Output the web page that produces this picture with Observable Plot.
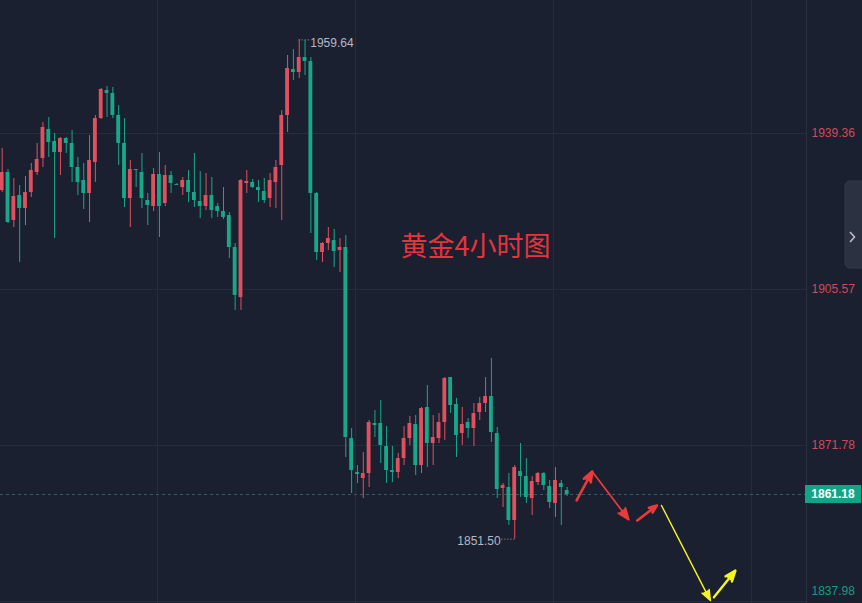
<!DOCTYPE html>
<html><head><meta charset="utf-8">
<script src="https://cdn.jsdelivr.net/npm/d3@7"></script>
<script src="https://cdn.jsdelivr.net/npm/@observablehq/plot@0.6"></script>
<style>html,body{margin:0;padding:0;background:#1b2030;overflow:hidden}</style>
</head><body><div id="chart"></div>
<script>
// 4-hour gold candles (oldest -> newest)
const opens = [1927.01,1930.91,1920.52,1925.93,1923.12,1926.58,1930.91,1933.95,1940.23,1937.63,
1935.25,1938.28,1937.20,1932.00,1929.18,1926.37,1933.08,1942.61,1948.67,1948.02,
1943.26,1937.20,1925.28,1931.56,1930.91,1924.85,1923.55,1930.48,1924.20,1930.26,
1928.32,1927.66,1929.18,1926.58,1924.63,1923.55,1925.93,1923.55,1922.47,1921.60,
1914.67,1903.84,1928.53,1928.75,1927.66,1926.80,1925.28,1928.75,1932.43,1943.26,
1953.22,1952.57,1955.82,1954.95,1926.37,1913.59,1915.54,1916.18,1914.02,1914.67,
1873.30,1865.94,1864.64,1865.72,1876.55,1876.55,1871.57,1866.37,1865.94,1868.97,
1873.30,1876.34,1867.45,1880.02,1872.22,1873.30,1876.77,1886.51,1880.67,1874.39,
1876.77,1875.47,1878.93,1880.89,1882.40,1874.39,1862.48,1862.69,1855.54,1866.16,
1865.07,1860.31,1863.77,1865.72,1862.91,1859.23,1863.56,1862.04];
const highs = [1936.11,1931.56,1929.61,1928.10,1930.05,1932.86,1937.20,1941.74,1942.83,1939.36,
1938.49,1938.49,1940.01,1934.16,1932.86,1938.93,1943.26,1949.11,1949.54,1949.32,
1945.42,1942.61,1933.51,1931.56,1935.03,1926.37,1931.78,1935.25,1932.43,1931.13,
1928.50,1929.83,1931.35,1935.03,1931.13,1930.70,1929.83,1924.20,1927.66,1922.25,
1915.54,1929.40,1931.35,1929.40,1929.18,1929.61,1930.70,1933.51,1944.34,1956.25,
1957.55,1959.64,1959.50,1955.82,1926.58,1915.75,1919.00,1918.57,1916.62,1917.27,
1875.47,1867.45,1870.27,1877.20,1879.37,1881.53,1875.90,1871.57,1870.06,1875.90,
1878.07,1878.28,1880.02,1884.78,1878.28,1878.72,1886.51,1886.51,1881.97,1880.02,
1877.64,1880.89,1882.18,1886.51,1890.63,1875.69,1863.56,1865.72,1867.45,1872.22,
1868.97,1865.07,1865.94,1865.94,1864.21,1867.02,1864.21,1862.69];
const lows = [1926.58,1919.87,1919.00,1911.42,1919.43,1925.50,1930.26,1932.00,1934.16,1916.62,
1930.26,1935.03,1928.75,1925.93,1922.90,1920.09,1928.75,1942.39,1942.83,1942.61,
1932.43,1923.33,1919.00,1927.66,1923.12,1919.43,1922.47,1916.84,1923.55,1926.37,
1928.10,1925.93,1924.42,1923.33,1920.95,1922.68,1920.95,1921.17,1920.74,1912.29,
1901.03,1901.03,1926.37,1927.45,1924.42,1924.20,1923.33,1923.12,1920.52,1939.58,
1950.84,1951.27,1951.92,1917.70,1911.85,1911.42,1914.02,1910.34,1909.26,1869.19,
1861.39,1863.56,1860.31,1862.69,1873.52,1867.89,1863.56,1863.77,1864.64,1867.45,
1871.79,1865.29,1865.72,1867.02,1867.45,1872.22,1872.87,1878.72,1869.19,1871.79,
1873.30,1871.57,1877.20,1878.93,1872.43,1860.31,1858.36,1854.46,1851.50,1860.53,
1859.23,1856.63,1863.12,1862.04,1858.14,1856.19,1854.46,1860.74];
const closes = [1930.91,1920.09,1925.72,1923.12,1926.58,1931.35,1933.73,1940.66,1937.41,1935.25,
1938.28,1937.20,1932.00,1928.75,1926.37,1933.51,1942.61,1948.89,1948.02,1943.26,
1937.20,1925.28,1931.56,1931.35,1925.28,1923.77,1930.48,1923.55,1930.26,1928.53,
1928.10,1929.18,1926.58,1924.85,1923.55,1925.93,1922.68,1922.47,1921.17,1914.67,
1904.28,1929.18,1928.96,1927.66,1927.01,1924.85,1929.18,1932.00,1943.26,1953.44,
1952.57,1955.82,1954.95,1926.37,1913.59,1915.54,1916.62,1913.80,1914.67,1873.52,
1866.37,1865.51,1865.72,1876.77,1876.12,1871.79,1866.37,1865.94,1868.97,1873.30,
1876.55,1867.45,1879.80,1872.22,1873.52,1876.77,1886.30,1880.45,1873.95,1876.34,
1875.47,1878.72,1880.89,1882.40,1874.60,1862.26,1863.12,1855.54,1867.02,1865.07,
1860.53,1863.99,1865.72,1863.12,1859.44,1864.21,1862.69,1861.18];

const yTicks = [1939.36, 1905.57, 1871.78, 1837.98];
const lastPrice = 1861.18;
const gridX = [26.67, 60.67, 94.67, 128.67];     // vertical grid lines (bar index)
const xDomain = [-0.29, 138.1];
const yDomain = [1837.57, 1968.165];
const highMark = {label: "1959.64", i: 51, price: 1959.64};
const lowMark = {label: "1851.50", i: 88, price: 1851.50};
const title = {label: "黄金4小时图", i: 68.4, price: 1914.67};
const redArrows = [
  {x1: 98.63, y1: 1859.88, x2: 101.3, y2: 1866.16, w: 2.6},
  {x1: 101.3, y1: 1866.16, x2: 107.6, y2: 1855.7, w: 1.7},
  {x1: 109.05, y1: 1855.54, x2: 112.4, y2: 1858.8, w: 2.6}
];
const yellowArrows = [
  {x1: 113.2, y1: 1858.8, x2: 121.6, y2: 1838.2, w: 1.4},
  {x1: 122.2, y1: 1838.9, x2: 125.9, y2: 1844.7, w: 2.4}
];

const RED = "#e0505f", GREEN = "#16a889", BG = "#1b2030", GRID = "#272d3c";
const candles = opens.map((o, i) => ({i, open: o, high: highs[i], low: lows[i], close: closes[i]}));
const up = candles.filter(d => d.close >= d.open);
const down = candles.filter(d => d.close < d.open);

function chrome(index, scales, values, dimensions) {
  const g = d3.create("svg:g");
  const x0 = dimensions.width - dimensions.marginRight;
  const y = scales.y(lastPrice);
  g.append("rect").attr("x", x0 - 1).attr("y", y - 9).attr("width", 56).attr("height", 18).attr("fill", "#12a487");
  g.append("text").attr("x", x0 + 27).attr("y", y).attr("dy", "0.36em").attr("text-anchor", "middle")
    .attr("fill", "#ffffff").attr("font-size", 12).attr("font-weight", 600)
    .attr("font-family", "'Liberation Sans', Arial, sans-serif").text(lastPrice.toFixed(2));
  g.append("rect").attr("x", 845).attr("y", 181).attr("width", 24).attr("height", 87).attr("rx", 5)
    .attr("fill", "#2b3141").attr("stroke", "#353b4b");
  g.append("path").attr("d", "M850,232 L854.5,237 L850,242").attr("fill", "none")
    .attr("stroke", "#b9bdc8").attr("stroke-width", 1.6);
  return g.node();
}

const numFont = "'Liberation Sans', Arial, sans-serif";
const chart = Plot.plot({
  width: 862, height: 603,
  marginLeft: 0, marginRight: 56, marginTop: 0, marginBottom: 0,
  style: {background: BG, fontFamily: numFont, overflow: "visible"},
  x: {domain: xDomain, axis: null},
  y: {domain: yDomain, axis: null},
  marks: [
    Plot.ruleY(yTicks, {stroke: GRID, strokeWidth: 1}),
    Plot.ruleX(gridX, {stroke: GRID, strokeWidth: 1}),
    Plot.ruleX([xDomain[1]], {stroke: "#2a3040", strokeWidth: 1}),
    Plot.ruleY([lastPrice], {stroke: "#365e62", strokeWidth: 1, strokeDasharray: "3,3"}),
    Plot.ruleX(up, {x: "i", y1: "low", y2: "high", stroke: RED, strokeWidth: 1}),
    Plot.ruleX(down, {x: "i", y1: "low", y2: "high", stroke: GREEN, strokeWidth: 1}),
    Plot.rect(up, {x1: d => d.i - 0.33, x2: d => d.i + 0.33, y1: "open", y2: "close", fill: RED}),
    Plot.rect(down, {x1: d => d.i - 0.33, x2: d => d.i + 0.33, y1: "open", y2: "close", fill: GREEN}),
    Plot.ruleY([{y: highMark.price, x1: highMark.i, x2: highMark.i + 1.8}], {y: "y", x1: "x1", x2: "x2", stroke: "#9aa0ad", strokeDasharray: "1,2"}),
    Plot.ruleY([{y: lowMark.price, x1: lowMark.i - 2.2, x2: lowMark.i}], {y: "y", x1: "x1", x2: "x2", stroke: "#9aa0ad", strokeDasharray: "1,2"}),
    Plot.text([highMark], {x: "i", y: "price", text: "label", dx: 11, dy: 3, textAnchor: "start", fill: "#b4b8c3", fontSize: 12}),
    Plot.text([lowMark], {x: "i", y: "price", text: "label", dx: -14, dy: 2, textAnchor: "end", fill: "#b4b8c3", fontSize: 12}),
    Plot.text([title], {x: "i", y: "price", text: "label", textAnchor: "start", fill: "#e5343b", fontSize: 27, fontFamily: "'Noto Sans CJK SC', sans-serif"}),
    Plot.text(yTicks.filter(v => v > lastPrice), {y: d => d, text: d => d.toFixed(2), frameAnchor: "right", dx: 5, textAnchor: "start", fill: "#d24a58", fontSize: 12}),
    Plot.text(yTicks.filter(v => v < lastPrice), {y: d => d, text: d => d.toFixed(2), frameAnchor: "right", dx: 5, dy: -10, textAnchor: "start", fill: "#1b9c80", fontSize: 12}),
    ...redArrows.map(a => Plot.arrow([a], {x1: "x1", y1: "y1", x2: "x2", y2: "y2", stroke: "#ec3a3c", fill: "#ec3a3c", strokeWidth: a.w, headLength: 11, headAngle: 42})),
    ...yellowArrows.map(a => Plot.arrow([a], {x1: "x1", y1: "y1", x2: "x2", y2: "y2", stroke: "#f6f51c", fill: "#f6f51c", strokeWidth: a.w, headLength: 12, headAngle: 42})),
    chrome
  ]
});
document.getElementById("chart").append(chart);
</script>
</body></html>
